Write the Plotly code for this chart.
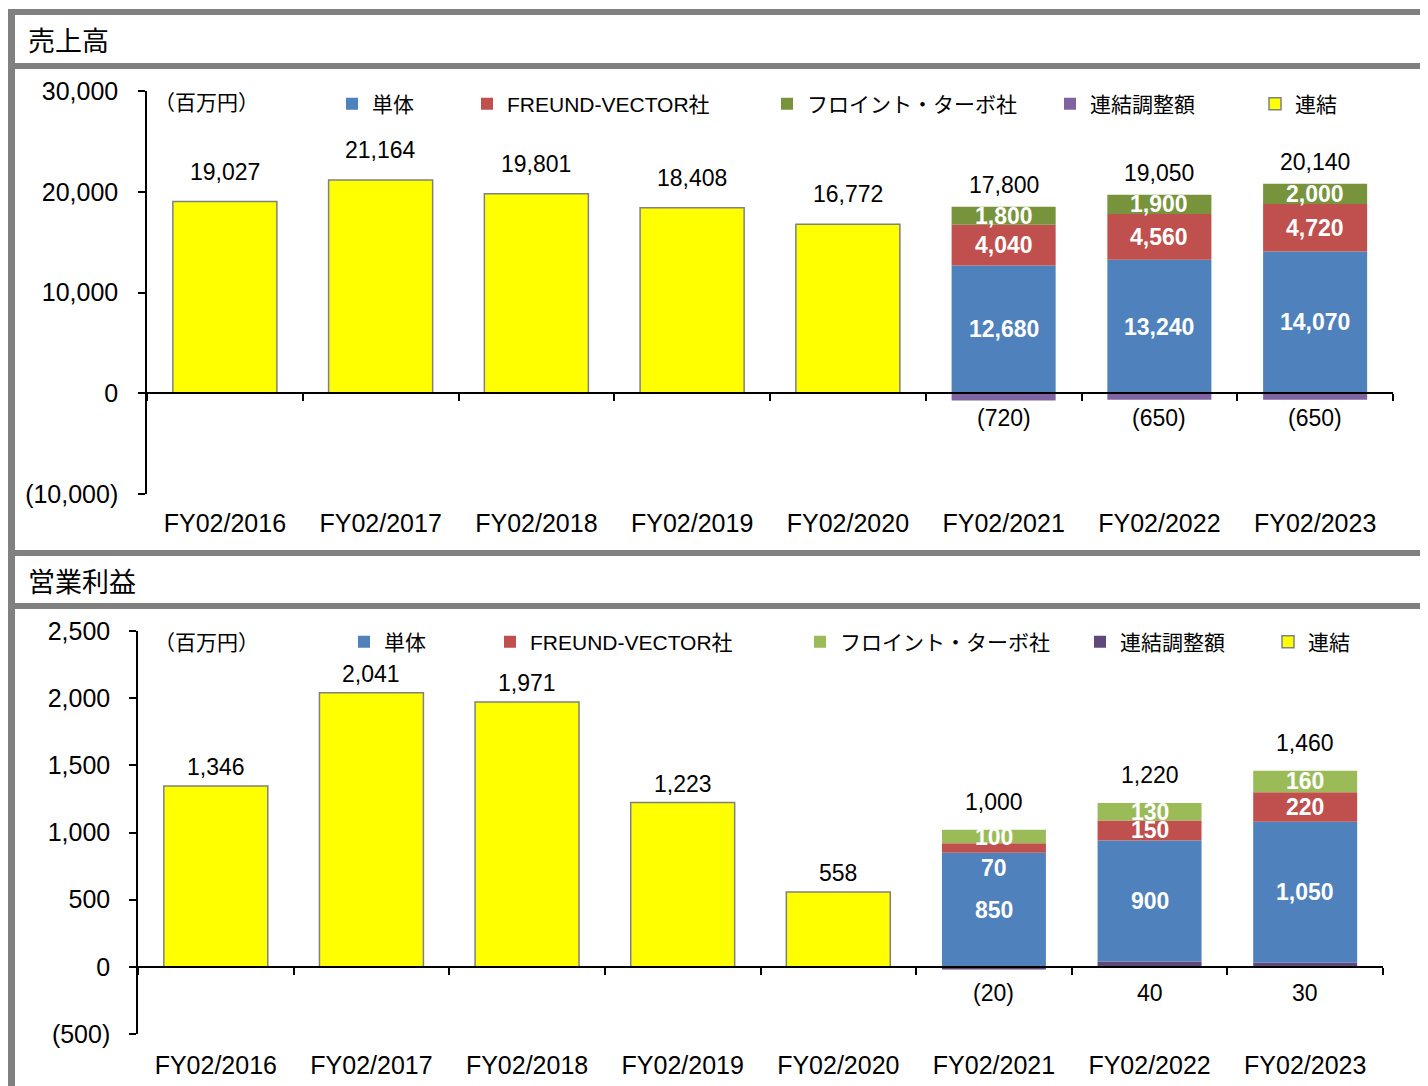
import plotly.graph_objects as go

W, H = 1428, 1086
OFF = 8               # the page body margin shifts the figure by 8 px
FW, FH = W - OFF, H - OFF

# ---------------- data ----------------
categories = ["FY02/2016", "FY02/2017", "FY02/2018", "FY02/2019",
              "FY02/2020", "FY02/2021", "FY02/2022", "FY02/2023"]

sales_consolidated = [19027, 21164, 19801, 18408, 16772, None, None, None]
sales_standalone = [None, None, None, None, None, 12680, 13240, 14070]
sales_freund_vector = [None, None, None, None, None, 4040, 4560, 4720]
sales_freund_turbo = [None, None, None, None, None, 1800, 1900, 2000]
sales_adjustment = [None, None, None, None, None, -720, -650, -650]
sales_total = [19027, 21164, 19801, 18408, 16772, 17800, 19050, 20140]

op_consolidated = [1346, 2041, 1971, 1223, 558, None, None, None]
op_standalone = [None, None, None, None, None, 850, 900, 1050]
op_freund_vector = [None, None, None, None, None, 70, 150, 220]
op_freund_turbo = [None, None, None, None, None, 100, 130, 160]
op_adjustment = [None, None, None, None, None, -20, 40, 30]
op_total = [1346, 2041, 1971, 1223, 558, 1000, 1220, 1460]

sales_ticks = [-10000, 0, 10000, 20000, 30000]
op_ticks = [-500, 0, 500, 1000, 1500, 2000, 2500]

series_names = {
    "standalone": "単体",
    "fv": "FREUND-VECTOR社",
    "turbo": "フロイント・ターボ社",
    "adj": "連結調整額",
    "consol": "連結",
}

# ---------------- helpers ----------------
def px_x(p):
    return (p - OFF) / FW


def px_y(p):
    return 1 - (p - OFF) / FH


def fmt(v):
    return f"({abs(v):,})" if v < 0 else f"{v:,}"


NUM_FONT = "Liberation Sans, Arial, Noto Sans CJK JP, sans-serif"
JP_FONT = "Noto Sans CJK JP, Liberation Sans, sans-serif"

panels = [
    dict(
        title="売上高", title_y=40, unit_y=101,
        xa="x", ya="y", xkey="xaxis", ykey="yaxis",
        xdom=(147, 1393), ydom=(494, 91), yrange=(-10000, 30000),
        ticks=sales_ticks,
        data=dict(standalone=sales_standalone, fv=sales_freund_vector,
                  turbo=sales_freund_turbo, adj=sales_adjustment,
                  consol=sales_consolidated),
        total=sales_total,
        colors=dict(standalone="#4F81BD", fv="#C0504D", turbo="#77933C",
                    adj="#8064A2", consol="#FFFF00"),
        legend_ids=["legend", "legend2", "legend3", "legend4", "legend5"],
        legend_text_x=dict(standalone=372, fv=507, turbo=807, adj=1090, consol=1295),
        legend_y=104,
        xlab_standoff=108, ylab_standoff=15,
        yshift_single=30, yshift_stack=22, yshift_adj=-25,
        nudges={},
    ),
    dict(
        title="営業利益", title_y=580, unit_y=641,
        xa="x2", ya="y2", xkey="xaxis2", ykey="yaxis2",
        xdom=(138, 1383), ydom=(1034, 631), yrange=(-500, 2500),
        ticks=op_ticks,
        data=dict(standalone=op_standalone, fv=op_freund_vector,
                  turbo=op_freund_turbo, adj=op_adjustment,
                  consol=op_consolidated),
        total=op_total,
        colors=dict(standalone="#4F81BD", fv="#C0504D", turbo="#9BBB59",
                    adj="#604A7B", consol="#FFFF00"),
        legend_ids=["legend6", "legend7", "legend8", "legend9", "legend10"],
        legend_text_x=dict(standalone=384, fv=530, turbo=840, adj=1120, consol=1308),
        legend_y=642,
        xlab_standoff=76, ylab_standoff=14,
        yshift_single=19, yshift_stack=28, yshift_adj=-26,
        nudges={("fv", 5): -20},
    ),
]

fig = go.Figure()
annotations = []
layout_updates = {}

for pn in panels:
    keys = ["standalone", "fv", "turbo", "adj", "consol"]
    legend_of = dict(zip(keys, pn["legend_ids"]))
    # drawing order: adjustment first so positive adjustments sit at the bottom
    for k in ["adj", "standalone", "fv", "turbo", "consol"]:
        line = dict(width=1.5, color="#808080") if k == "consol" else dict(width=0)
        fig.add_trace(go.Bar(
            x=categories, y=pn["data"][k], name=series_names[k],
            marker=dict(color=pn["colors"][k], line=line),
            xaxis=pn["xa"], yaxis=pn["ya"], legend=legend_of[k],
            hoverinfo="skip",
        ))

    # legends (one per item so spacing follows the reference)
    for k in keys:
        layout_updates[legend_of[k]] = dict(
            x=px_x(pn["legend_text_x"][k] - 40), xanchor="left",
            y=px_y(pn["legend_y"]), yanchor="middle",
            orientation="h", bgcolor="rgba(0,0,0,0)", borderwidth=0,
            font=dict(size=21, family=NUM_FONT, color="black"),
        )

    r0, r1 = pn["yrange"]
    d0, d1 = px_y(pn["ydom"][0]), px_y(pn["ydom"][1])
    zero_pos = d0 + (0 - r0) / (r1 - r0) * (d1 - d0)

    layout_updates[pn["xkey"]] = dict(
        domain=[px_x(pn["xdom"][0]), px_x(pn["xdom"][1])],
        anchor="free", position=zero_pos,
        type="category", categoryorder="array", categoryarray=categories,
        range=[-0.5, len(categories) - 0.5],
        showline=True, linecolor="black", linewidth=1.5,
        ticks="outside", tickson="boundaries", ticklen=7,
        tickcolor="black", tickwidth=1.5,
        tickfont=dict(size=25, family=NUM_FONT, color="black"),
        ticklabelstandoff=pn["xlab_standoff"],
        showgrid=False, zeroline=False, automargin=False, fixedrange=True,
    )
    layout_updates[pn["ykey"]] = dict(
        domain=[d0, d1], anchor=pn["xa"], range=[r0, r1],
        tickvals=pn["ticks"], ticktext=[fmt(v) for v in pn["ticks"]],
        showline=True, linecolor="black", linewidth=1.5,
        ticks="outside", ticklen=7, tickcolor="black", tickwidth=1.5,
        tickfont=dict(size=25, family=NUM_FONT, color="black"),
        ticklabelstandoff=pn["ylab_standoff"],
        showgrid=False, zeroline=False, automargin=False, fixedrange=True,
    )

    # value labels
    for i, cat in enumerate(categories):
        cons = pn["data"]["consol"][i]
        if cons is not None:
            annotations.append(dict(
                x=cat, y=cons, xref=pn["xa"], yref=pn["ya"], text=fmt(pn["total"][i]),
                showarrow=False, yanchor="middle", yshift=pn["yshift_single"],
                font=dict(size=23, family=NUM_FONT, color="black")))
            continue
        base = 0
        adj = pn["data"]["adj"][i]
        if adj is not None and adj > 0:
            base += adj
        for k in ["standalone", "fv", "turbo"]:
            v = pn["data"][k][i]
            mid = base + v / 2
            base += v
            annotations.append(dict(
                x=cat, y=mid, xref=pn["xa"], yref=pn["ya"], text=fmt(v),
                showarrow=False, yanchor="middle",
                yshift=pn["nudges"].get((k, i), 0),
                font=dict(size=23, family=NUM_FONT, color="white", weight="bold")))
        annotations.append(dict(
            x=cat, y=base, xref=pn["xa"], yref=pn["ya"], text=fmt(pn["total"][i]),
            showarrow=False, yanchor="middle", yshift=pn["yshift_stack"],
            font=dict(size=23, family=NUM_FONT, color="black")))
        annotations.append(dict(
            x=cat, y=0, xref=pn["xa"], yref=pn["ya"], text=fmt(adj),
            showarrow=False, yanchor="middle", yshift=pn["yshift_adj"],
            font=dict(size=23, family=NUM_FONT, color="black")))

    # panel header and unit
    annotations.append(dict(
        x=px_x(26), y=px_y(pn["title_y"]), xref="paper", yref="paper",
        text=pn["title"], showarrow=False, xanchor="left", yanchor="middle",
        font=dict(size=27, family=JP_FONT, color="black")))
    annotations.append(dict(
        x=px_x(152), y=px_y(pn["unit_y"]), xref="paper", yref="paper",
        text="（百万円）", showarrow=False, xanchor="left", yanchor="middle",
        font=dict(size=21, family=JP_FONT, color="black")))

# gray frame bands (paper coordinates)
GRAY = "#808080"
bands = [(8, 15, 9, H), (8, W, 9, 15), (8, W, 63, 69), (8, W, 550, 556), (8, W, 603, 609)]
shapes = [dict(type="rect", xref="paper", yref="paper",
               x0=px_x(a), x1=px_x(b), y0=px_y(d), y1=px_y(c),
               fillcolor=GRAY, line=dict(width=0), layer="below")
          for a, b, c, d in bands]

fig.update_layout(
    width=FW, height=FH, autosize=False,
    margin=dict(l=0, r=0, t=0, b=0),
    paper_bgcolor="white", plot_bgcolor="white",
    barmode="relative", bargap=0.332,
    annotations=annotations, shapes=shapes,
    showlegend=True, hovermode=False,
    **layout_updates,
)

fig.write_html("out.html")
